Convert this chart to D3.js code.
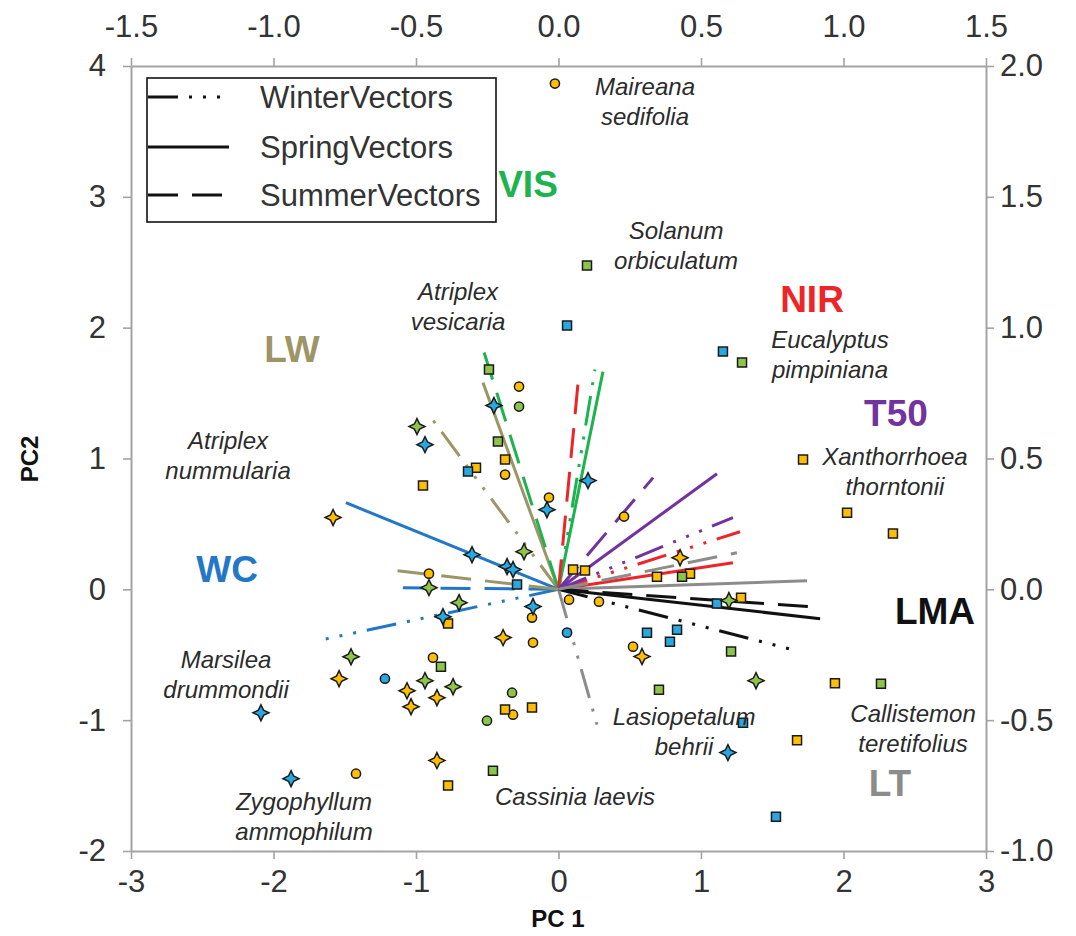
<!DOCTYPE html>
<html>
<head>
<meta charset="utf-8">
<script src="https://cdn.jsdelivr.net/npm/d3@7"></script>
<style>
  body { margin: 0; background: #fff; }
  svg { display: block; }
</style>
</head>
<body>
<svg id="chart" width="1076" height="936"></svg>
<script>
// ---------- tick labels ----------
const pc1Ticks = [-3, -2, -1, 0, 1, 2, 3];
const pc2Ticks = [-2, -1, 0, 1, 2, 3, 4];
const loadingXTicks = [-1.5, -1.0, -0.5, 0.0, 0.5, 1.0, 1.5];
const loadingYTicks = [-1.0, -0.5, 0.0, 0.5, 1.0, 1.5, 2.0];

// ---------- PCA scores (PC1, PC2), by season and growth form ----------
const summerCircles = [[-0.025, 3.866], [-0.277, 1.550], [-0.375, 0.877], [-0.067, 0.702], [-0.909, 0.120],
  [0.074, -0.079], [0.284, -0.094], [-0.186, -0.216], [-0.179, -0.407], [-0.881, -0.522], [-0.319, -0.958],
  [-1.421, -1.409], [0.460, 0.556], [0.523, -0.438]];
const springCircles = [[-0.277, 1.397], [-0.326, -0.790], [-0.502, -1.004]];
const winterCircles = [[-1.218, -0.683], [0.060, -0.331]];

const summerSquares = [[-0.375, 0.992], [-0.579, 0.930], [-0.951, 0.793], [0.102, 0.151], [0.186, 0.143],
  [-0.775, -0.262], [-0.375, -0.919], [-0.186, -0.904], [-0.775, -1.500], [0.691, 0.097], [0.923, 0.120],
  [1.281, -0.064], [1.716, 0.992], [2.025, 0.586], [2.347, 0.426], [1.940, -0.717], [1.674, -1.153]];
const springSquares = [[-0.488, 1.680], [-0.425, 1.129], [-0.825, -0.591], [-0.460, -1.386], [0.200, 2.475],
  [1.288, 1.733], [0.867, 0.097], [1.211, -0.476], [0.705, -0.767], [2.263, -0.721]];
const winterSquares = [[0.060, 2.016], [1.154, 1.817], [-0.635, 0.900], [-0.291, 0.036], [1.112, -0.109],
  [0.621, -0.331], [0.832, -0.308], [0.782, -0.400], [1.295, -1.020], [1.526, -1.738]];

const summerStars = [[-1.582, 0.549], [0.853, 0.242], [-0.389, -0.369], [0.586, -0.514], [-1.540, -0.683],
  [-1.063, -0.775], [-0.853, -0.828], [-1.035, -0.897], [-0.853, -1.309]];
const springStars = [[-0.993, 1.244], [-0.242, 0.288], [-0.909, 0.013], [-0.698, -0.102], [-1.456, -0.515],
  [-0.937, -0.698], [-0.740, -0.744], [1.196, -0.086], [1.386, -0.698]];
const winterStars = [[-0.453, 1.405], [-0.937, 1.106], [-0.081, 0.609], [0.207, 0.831], [-0.607, 0.265],
  [-0.361, 0.174], [-0.319, 0.151], [-0.179, -0.132], [-0.811, -0.209], [-2.088, -0.943], [-1.877, -1.447],
  [1.189, -1.248]];

// ---------- trait loadings (top / right axes) ----------
const traits = ["VIS", "NIR", "T50", "LMA", "LT", "WC", "LW"];
const winterVectors = [[0.128, 0.840], [0.637, 0.220], [0.612, 0.274], [0.819, -0.230], [0.135, -0.517], [-0.826, -0.192], [-0.458, 0.672]];
const springVectors = [[0.156, 0.832], [0.612, 0.102], [0.556, 0.442], [0.918, -0.112], [0.872, 0.033], [-0.746, 0.331], [-0.265, 0.790]];
const summerVectors = [[-0.261, 0.905], [0.068, 0.782], [0.332, 0.427], [0.875, -0.066], [0.626, 0.140], [-0.546, 0.006], [-0.598, 0.075]];

// trait label anchors (PC1, PC2)
const traitLabelAt = [[-0.214, 3.094], [1.779, 2.215], [2.368, 1.343], [2.642, -0.170], [2.326, -1.485], [-2.326, 0.151], [-1.870, 1.833]];

// species names and their anchors (PC1, PC2)
const speciesNames = [
  ["Maireana", "sedifolia"], ["Solanum", "orbiculatum"], ["Atriplex", "vesicaria"], ["Eucalyptus", "pimpiniana"],
  ["Atriplex", "nummularia"], ["Xanthorrhoea", "thorntonii"], ["Marsilea", "drummondii"], ["Lasiopetalum", "behrii"],
  ["Callistemon", "teretifolius"], ["Zygophyllum", "ammophilum"], ["Cassinia laevis"]
];
const speciesAt = [[0.607, 3.732], [0.825, 2.628], [-0.705, 2.163], [1.905, 1.795], [-2.319, 1.023], [2.361, 0.900],
  [-2.333, -0.648], [0.881, -1.088], [2.488, -1.065], [-1.786, -1.737], [0.116, -1.585]];

const seasonNames = ["WinterVectors", "SpringVectors", "SummerVectors"];

// ---------- styling ----------
const FONT = "'Liberation Sans', Arial, Helvetica, sans-serif";
const traitColor = { VIS: "#1db34f", NIR: "#ee2528", T50: "#7232a0", LMA: "#111111", LT: "#8c8c8c", WC: "#2277c6", LW: "#9e9566" };
const seasonDash = { WinterVectors: "30 11 3 11 3 11 3 11", SpringVectors: null, SummerVectors: "30 14" };
const fillSummer = "#ffbf00", fillSpring = "#8dc54b", fillWinter = "#27a8e0";
const axisColor = "#a3a3a3";

const svg = d3.select("#chart");

// scales: scores on bottom/left, loadings on top/right
const x = d3.scaleLinear().domain([-3, 3]).range([131, 986]);
const y = d3.scaleLinear().domain([-2, 4]).range([851, 66]);
const xL = d3.scaleLinear().domain([-1.5, 1.5]).range([131, 986]);
const yL = d3.scaleLinear().domain([-1, 2]).range([851, 66]);

// ---------- axes ----------
function styleAxis(g) {
  g.select(".domain").attr("stroke", axisColor).attr("stroke-width", 2);
  g.selectAll(".tick line").attr("stroke", axisColor).attr("stroke-width", 1.6);
  g.selectAll(".tick text").attr("fill", "#333").style("font-family", FONT).style("font-size", "31px");
}
svg.append("g").attr("transform", "translate(0,851)")
  .call(d3.axisBottom(x).tickValues(pc1Ticks).tickFormat(d => String(d)).tickSize(8).tickSizeOuter(0).tickPadding(11))
  .call(styleAxis);
svg.append("g").attr("transform", "translate(131,0)")
  .call(d3.axisLeft(y).tickValues(pc2Ticks).tickFormat(d => String(d)).tickSize(8).tickSizeOuter(0).tickPadding(17))
  .call(styleAxis);
svg.append("g").attr("transform", "translate(0,66)")
  .call(d3.axisTop(xL).tickValues(loadingXTicks).tickFormat(d => d.toFixed(1)).tickSize(8).tickSizeOuter(0).tickPadding(21))
  .call(styleAxis);
svg.append("g").attr("transform", "translate(986,0)")
  .call(d3.axisRight(yL).tickValues(loadingYTicks).tickFormat(d => d.toFixed(1)).tickSize(8).tickSizeOuter(0).tickPadding(6))
  .call(styleAxis);

svg.append("text").attr("x", 558).attr("y", 918).attr("text-anchor", "middle").attr("dominant-baseline", "central")
  .style("font-family", FONT).style("font-size", "24px").style("font-weight", "bold").attr("fill", "#111").text("PC 1");
svg.append("text").attr("transform", "translate(29,459) rotate(-90)").attr("text-anchor", "middle").attr("dominant-baseline", "central")
  .style("font-family", FONT).style("font-size", "24px").style("font-weight", "bold").attr("fill", "#111").text("PC2");

// ---------- loading vectors ----------
const vecGroup = svg.append("g");
const seasonSets = [winterVectors, springVectors, summerVectors];
seasonSets.forEach((set, si) => {
  set.forEach((v, i) => {
    const line = vecGroup.append("line")
      .attr("x1", xL(0)).attr("y1", yL(0))
      .attr("x2", xL(v[0])).attr("y2", yL(v[1]))
      .attr("stroke", traitColor[traits[i]]).attr("stroke-width", 3);
    const dash = seasonDash[seasonNames[si]];
    if (dash) line.attr("stroke-dasharray", dash);
  });
});

// ---------- score markers ----------
const star4 = (r, k) => {
  const p = [[0, -r], [k, -k], [r, 0], [k, k], [0, r], [-k, k], [-r, 0], [-k, -k]];
  return "M" + p.map(d => d.join(",")).join("L") + "Z";
};
const markerPath = {
  circle: d3.symbol().type(d3.symbolCircle).size(Math.PI * 4.6 * 4.6)(),
  square: d3.symbol().type(d3.symbolSquare).size(9 * 9)(),
  star: star4(8, 2.6)
};
const markerSets = [
  [summerCircles, "circle", fillSummer], [springCircles, "circle", fillSpring], [winterCircles, "circle", fillWinter],
  [summerSquares, "square", fillSummer], [springSquares, "square", fillSpring], [winterSquares, "square", fillWinter],
  [summerStars, "star", fillSummer], [springStars, "star", fillSpring], [winterStars, "star", fillWinter]
];
const ptGroup = svg.append("g");
markerSets.forEach(([data, shape, fill]) => {
  ptGroup.selectAll(null).data(data).enter().append("path")
    .attr("d", markerPath[shape])
    .attr("transform", d => `translate(${x(d[0])},${y(d[1])})`)
    .attr("fill", fill).attr("stroke", "#1a1a1a").attr("stroke-width", 1.5);
});

// ---------- species names ----------
const spGroup = svg.append("g").style("font-family", FONT).style("font-size", "24px").style("font-style", "italic").attr("fill", "#2b2b2b");
speciesNames.forEach((lines, i) => {
  const cx = x(speciesAt[i][0]), cy = y(speciesAt[i][1]);
  const n = lines.length;
  lines.forEach((t, j) => {
    spGroup.append("text").attr("x", cx).attr("y", cy + (j - (n - 1) / 2) * 30)
      .attr("text-anchor", "middle").attr("dominant-baseline", "central").text(t);
  });
});

// ---------- trait names ----------
const trGroup = svg.append("g").style("font-family", FONT).style("font-size", "37px").style("font-weight", "bold");
traits.forEach((t, i) => {
  trGroup.append("text").attr("x", x(traitLabelAt[i][0])).attr("y", y(traitLabelAt[i][1]))
    .attr("text-anchor", "middle").attr("dominant-baseline", "central")
    .attr("fill", traitColor[t]).text(t);
});

// ---------- legend ----------
const lg = svg.append("g");
lg.append("rect").attr("x", 147).attr("y", 78).attr("width", 349).attr("height", 144)
  .attr("fill", "#fff").attr("stroke", "#111").attr("stroke-width", 1.6);
const legendRows = [97, 147, 195];
seasonNames.forEach((s, i) => {
  const ly = legendRows[i];
  const l = lg.append("line").attr("x1", 148).attr("x2", 229).attr("y1", ly).attr("y2", ly)
    .attr("stroke", "#111").attr("stroke-width", 3);
  if (seasonDash[s]) l.attr("stroke-dasharray", seasonDash[s]);
  lg.append("text").attr("x", 260).attr("y", ly).attr("dominant-baseline", "central")
    .style("font-family", FONT).style("font-size", "31px").attr("fill", "#333").text(s);
});
</script>
</body>
</html>
